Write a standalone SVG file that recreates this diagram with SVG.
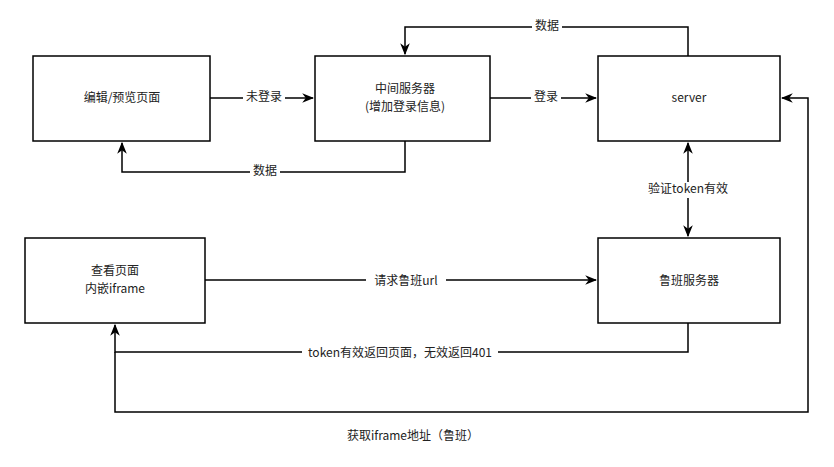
<svg xmlns="http://www.w3.org/2000/svg" width="834" height="467" viewBox="0 0 834 467">
<style>
.b{fill:#fff;stroke:#000;stroke-width:1.5}
.c{fill:none;stroke:#000;stroke-width:1.5}
text{font-family:"Noto Sans CJK SC","Liberation Sans",sans-serif;font-size:12px;fill:#222;text-anchor:middle;dominant-baseline:middle}
.lb{fill:#fff}
</style>
<defs>
<marker id="a" viewBox="0 0 10 10" refX="9" refY="5" markerWidth="8" markerHeight="8" orient="auto-start-reverse"><path d="M0,1 L10,5 L0,9 L3,5 Z" fill="#000"/></marker>
</defs>
<rect width="834" height="467" fill="#fff"/>
<g id="connectors">
<path class="c" d="M210,98 H313" marker-end="url(#a)"/>
<path class="c" d="M490,98 H596" marker-end="url(#a)"/>
<path class="c" d="M688,56 V27 H405 V54" marker-end="url(#a)"/>
<path class="c" d="M405,141 V172 H122 V143" marker-end="url(#a)"/>
<path class="c" d="M688,143 V236" marker-start="url(#a)" marker-end="url(#a)"/>
<path class="c" d="M205,280 H596" marker-end="url(#a)"/>
<path class="c" d="M688,323 V352 H115 V325" marker-end="url(#a)"/>
<path class="c" d="M115,352 V412 H808 V98 H782" marker-end="url(#a)"/>
<rect class="lb" x="243" y="90" width="42" height="16"/><text x="264" y="98">未登录</text>
<rect class="lb" x="531" y="90" width="30" height="16"/><text x="546" y="98">登录</text>
<rect class="lb" x="532" y="19" width="30" height="16"/><text x="547" y="27">数据</text>
<rect class="lb" x="250" y="164" width="30" height="16"/><text x="265" y="172">数据</text>
<rect class="lb" x="643" y="182" width="90" height="16"/><text x="688" y="190">验证token有效</text>
<rect class="lb" x="366" y="274" width="80" height="16"/><text x="406" y="282">请求鲁班url</text>
<rect class="lb" x="302" y="346" width="196" height="16"/><text x="400" y="354">token有效返回页面，无效返回401</text>
<text x="413" y="437">获取iframe地址（鲁班）</text>
</g>
<g id="n1"><rect class="b" x="33" y="56" width="177" height="85"/><text x="122" y="99">编辑/预览页面</text></g>
<g id="n2"><rect class="b" x="315" y="56" width="175" height="85"/><text x="405" y="90">中间服务器</text><text x="405" y="108">(增加登录信息)</text></g>
<g id="n3"><rect class="b" x="598" y="56" width="182" height="85"/><text x="689" y="99">server</text></g>
<g id="n4"><rect class="b" x="25" y="238" width="180" height="85"/><text x="115" y="272">查看页面</text><text x="115" y="290">内嵌iframe</text></g>
<g id="n5"><rect class="b" x="598" y="238" width="182" height="85"/><text x="689" y="282">鲁班服务器</text></g>
</svg>
